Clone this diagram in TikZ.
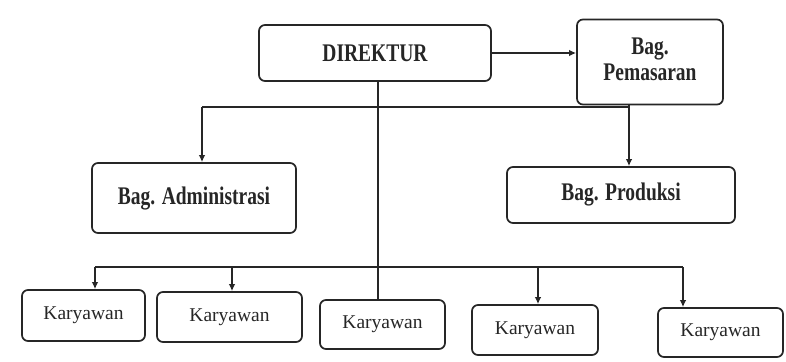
\documentclass[tikz,border=0pt]{standalone}
\usepackage{fontspec}
\setmainfont{Liberation Serif}
\usetikzlibrary{arrows.meta,positioning}
\definecolor{inkdark}{HTML}{262626}
\newcommand{\tallbf}[1]{\scalebox{1}[1.3]{\bfseries #1}}

\begin{document}
\begin{tikzpicture}[x=1pt,y=-1pt,>={Latex[length=7pt,width=6.5pt]},
  box/.style={draw=inkdark,text=inkdark,line width=1.7pt,rounded corners=6pt,inner sep=0pt,align=center},
  headbox/.style={box,font=\fontsize{19.5}{20}\selectfont},
  staff/.style={box,font=\fontsize{19.5}{20}\selectfont},
  link/.style={draw=inkdark,line width=1.3pt}]
  \useasboundingbox (0,0) rectangle (786,361);
  % top level
  \node[headbox,minimum width=232pt,minimum height=56pt] (direktur) at (375,53) {\tallbf{DIREKTUR}};
  \node[headbox,minimum width=146pt,minimum height=85pt] (pemasaran) at (650,62)
    {\tallbf{\begin{tabular}{@{}c@{}}Bag.\\Pemasaran\end{tabular}}};
  \node[headbox,minimum width=204pt,minimum height=70pt] (admin) at (194,198) {\tallbf{Bag. Administrasi}};
  \node[headbox,minimum width=228pt,minimum height=56pt] (produksi) at (621,195) {\tallbf{Bag. Produksi}};
  % staff row
  \node[staff,minimum width=123pt,minimum height=51pt] (k1) at (83.5,315.5) {Karyawan};
  \node[staff,minimum width=145pt,minimum height=50pt] (k2) at (229.5,317) {Karyawan};
  \node[staff,minimum width=125pt,minimum height=49pt] (k3) at (382.5,324.5) {Karyawan};
  \node[staff,minimum width=126pt,minimum height=50pt] (k4) at (535,330) {Karyawan};
  \node[staff,minimum width=125pt,minimum height=49pt] (k5) at (720.5,332.5) {Karyawan};
  % bus points
  \coordinate (busA) at (202,107);
  \coordinate (busP) at (629,107);
  \coordinate (bus1) at (95,267);
  \coordinate (bus2) at (232,267);
  \coordinate (bus4) at (538,267);
  \coordinate (bus5) at (683,267);
  \coordinate (trunk) at (378,81);
  % connectors
  \draw[link,->] (direktur.east) -- (direktur.east -| pemasaran.west);
  \draw[link] (trunk |- direktur.south) -- (trunk |- k3.north);
  \draw[link] (busA) -- (busP);
  \draw[link,->] (busA) -- (busA |- admin.north);
  \draw[link,->] (busP |- pemasaran.south) -- (busP |- produksi.north);
  \draw[link] (bus1) -- (bus5);
  \foreach \b/\k in {bus1/k1,bus2/k2,bus4/k4,bus5/k5}
    \draw[link,->] (\b) -- (\b |- \k.north);
\end{tikzpicture}
\end{document}
